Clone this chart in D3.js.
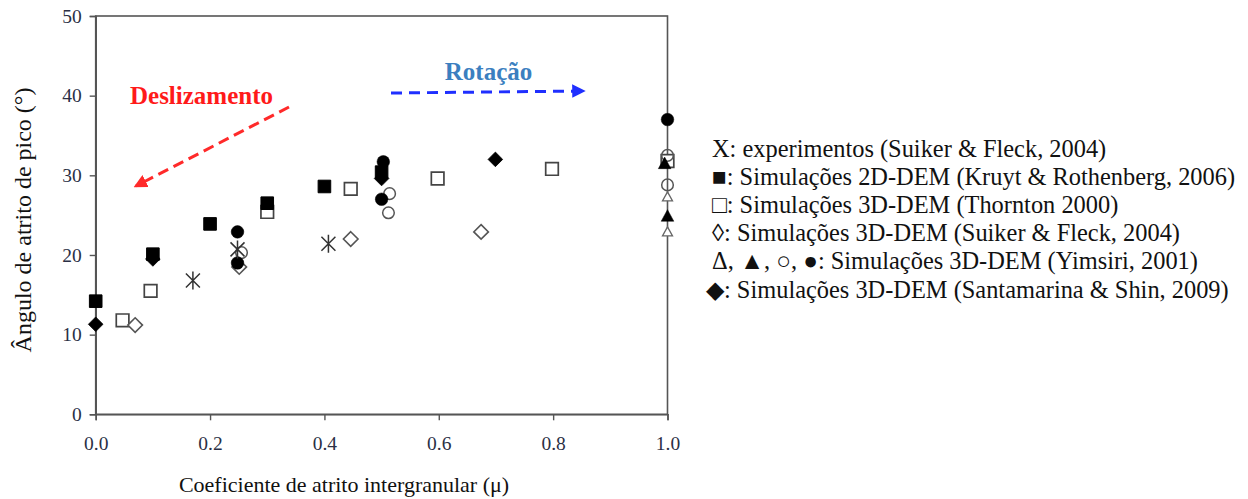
<!DOCTYPE html>
<html>
<head>
<meta charset="utf-8">
<script src="https://cdn.jsdelivr.net/npm/d3@7"></script>
<style>
  html, body { margin: 0; padding: 0; background: #fff; }
  svg { display: block; }
  text { font-family: "Liberation Serif", "Times New Roman", serif; }
</style>
</head>
<body>
<svg id="chart" width="1248" height="499"></svg>
<script>
// Peak friction angle vs. intergranular friction coefficient
const xTicks = [0, 0.2, 0.4, 0.6, 0.8, 1.0];
const yTicks = [0, 10, 20, 30, 40, 50];

// X: experiments (Suiker & Fleck, 2004)
const experimentos = [[0.17, 16.8], [0.248, 20.7], [0.407, 21.4]];
// filled squares: 2D-DEM (Kruyt & Rothenberg, 2006)
const kruyt2D = [[0.0, 14.2], [0.1, 20.1], [0.2, 23.9], [0.3, 26.5], [0.4, 28.6], [0.5, 30.4]];
// open squares: 3D-DEM (Thornton 2000)
const thornton3D = [[0.047, 11.8], [0.096, 15.5], [0.3, 25.4], [0.446, 28.3], [0.598, 29.6], [0.798, 30.8], [1.0, 31.8]];
// open diamonds: 3D-DEM (Suiker & Fleck, 2004)
const suiker3D = [[0.069, 11.2], [0.251, 18.5], [0.446, 22.0], [0.674, 22.9]];
// Yimsiri, 2001: open triangles, filled triangles, open circles, filled circles
const yimsiriTriAberto = [[1.0, 27.3], [1.0, 22.9]];
const yimsiriTriCheio = [[0.995, 31.5], [1.0, 24.9]];
const yimsiriCircAberto = [[0.255, 20.3], [0.514, 27.7], [0.512, 25.3], [1.0, 32.5], [1.0, 28.8]];
const yimsiriCircCheio = [[0.248, 22.9], [0.248, 19.0], [0.503, 31.7], [0.5, 27.0], [1.0, 37.0]];
// filled diamonds: 3D-DEM (Santamarina & Shin, 2009)
const santamarina = [[0.0, 11.3], [0.1, 19.5], [0.5, 29.6], [0.699, 32.0]];

const legendLines = [
  "X: experimentos (Suiker & Fleck, 2004)",
  "\u25A0: Simulações 2D-DEM (Kruyt & Rothenberg, 2006)",
  "\u25A1: Simulações 3D-DEM (Thornton 2000)",
  "\u25CA: Simulações 3D-DEM (Suiker & Fleck, 2004)",
  "\u0394, \u25B2, \u25CB, \u25CF: Simulações 3D-DEM (Yimsiri, 2001)",
  "\u25C6: Simulações 3D-DEM (Santamarina & Shin, 2009)"
];

const svg = d3.select("#chart");
const x = d3.scaleLinear().domain([0, 1]).range([95.7, 667.5]);
const y = d3.scaleLinear().domain([0, 50]).range([414.3, 16]);

const axisColor = "#555";

// plot frame
svg.append("rect")
  .attr("x", x(0)).attr("y", y(50))
  .attr("width", x(1) - x(0)).attr("height", y(0) - y(50))
  .attr("fill", "none").attr("stroke", axisColor).attr("stroke-width", 1.6);

// axes
const xAxis = svg.append("g").attr("transform", `translate(0,${y(0)})`)
  .call(d3.axisBottom(x).tickValues(xTicks).tickFormat(d3.format(".1f")).tickSize(6).tickPadding(16));
const yAxis = svg.append("g").attr("transform", `translate(${x(0)},0)`)
  .call(d3.axisLeft(y).tickValues(yTicks).tickSize(6).tickPadding(8));
[xAxis, yAxis].forEach(g => {
  g.select(".domain").attr("stroke", axisColor).attr("stroke-width", 1.6);
  g.selectAll(".tick line").attr("stroke", axisColor).attr("stroke-width", 1.4);
  g.selectAll(".tick text").attr("font-family", "Liberation Serif, serif")
    .attr("font-size", 19.5).attr("fill", "#2a2f45");
});

// axis titles
svg.append("text")
  .attr("x", 344).attr("y", 492)
  .attr("text-anchor", "middle").attr("font-size", 22).attr("fill", "#111")
  .text("Coeficiente de atrito intergranular (\u03BC)");
svg.append("text")
  .attr("transform", "translate(31,220) rotate(-90)")
  .attr("text-anchor", "middle").attr("font-size", 24).attr("fill", "#111")
  .text("\u00C2ngulo de atrito de pico (\u00B0)");

// marker shapes
const S = 6.3; // half size
const shapes = {
  square: `M${-S},${-S}H${S}V${S}H${-S}Z`,
  diamond: `M0,${-S - 1}L${S + 1},0L0,${S + 1}L${-S - 1},0Z`,
  triangle: `M0,${-S}L${S},${S - 1}H${-S}Z`,
  smallTri: `M0,${-5}L${5},${4}H${-5}Z`,
  star: `M0,-9V9M-7,-7L7,7M-7,7L7,-7`
};

function plot(data, cls, opts) {
  const g = svg.append("g").attr("class", cls);
  if (opts.circle) {
    g.selectAll("circle").data(data).join("circle")
      .attr("cx", d => x(d[0])).attr("cy", d => y(d[1]))
      .attr("r", opts.r || 6)
      .attr("fill", opts.fill).attr("stroke", opts.stroke).attr("stroke-width", opts.sw || 1.5);
  } else {
    g.selectAll("path").data(data).join("path")
      .attr("transform", d => `translate(${x(d[0])},${y(d[1])})`)
      .attr("d", shapes[opts.shape])
      .attr("fill", opts.fill).attr("stroke", opts.stroke).attr("stroke-width", opts.sw || 1.5);
  }
}

plot(thornton3D, "thornton", { shape: "square", fill: "#fff", stroke: "#444", sw: 1.7 });
plot(suiker3D, "suiker", { shape: "diamond", fill: "#fff", stroke: "#555", sw: 1.6 });
plot(yimsiriCircAberto, "yim-circ-open", { circle: true, r: 5.8, fill: "none", stroke: "#555", sw: 1.5 });
plot(yimsiriTriAberto, "yim-tri-open", { shape: "smallTri", fill: "#fff", stroke: "#666", sw: 1.3 });
plot(kruyt2D, "kruyt", { shape: "square", fill: "#000", stroke: "#000", sw: 1 });
plot(santamarina, "santamarina", { shape: "diamond", fill: "#000", stroke: "#000", sw: 0.8 });
plot(yimsiriCircCheio, "yim-circ-filled", { circle: true, r: 6.3, fill: "#000", stroke: "#000", sw: 0.5 });
plot(yimsiriTriCheio, "yim-tri-filled", { shape: "triangle", fill: "#000", stroke: "#000", sw: 0.5 });
plot(experimentos, "experimentos", { shape: "star", fill: "none", stroke: "#333", sw: 1.5 });

// direction annotations
const defs = svg.append("defs");
[["headRed", "#ff2a2a"], ["headBlue", "#1f2fff"]].forEach(([id, c]) => {
  defs.append("marker").attr("id", id)
    .attr("viewBox", "0 0 10 10").attr("refX", 8).attr("refY", 5)
    .attr("markerWidth", 4.5).attr("markerHeight", 4.5).attr("orient", "auto")
    .attr("markerUnits", "strokeWidth")
    .append("path").attr("d", "M0,0L10,5L0,10Z").attr("fill", c);
});

svg.append("line")
  .attr("x1", 289).attr("y1", 107).attr("x2", 136).attr("y2", 186)
  .attr("stroke", "#ff2a2a").attr("stroke-width", 3)
  .attr("stroke-dasharray", "11,6").attr("marker-end", "url(#headRed)");
svg.append("text")
  .attr("x", 201.5).attr("y", 104).attr("text-anchor", "middle")
  .attr("font-size", 25).attr("font-weight", "bold").attr("fill", "#ff1a1a")
  .text("Deslizamento");

svg.append("line")
  .attr("x1", 391).attr("y1", 93).attr("x2", 583).attr("y2", 91)
  .attr("stroke", "#1f2fff").attr("stroke-width", 3)
  .attr("stroke-dasharray", "11,7").attr("marker-end", "url(#headBlue)");
svg.append("text")
  .attr("x", 488.5).attr("y", 80).attr("text-anchor", "middle")
  .attr("font-size", 25).attr("font-weight", "bold").attr("fill", "#3b7fc0")
  .text("Rota\u00E7\u00E3o");

// legend block
svg.append("g").attr("class", "legend")
  .selectAll("text").data(legendLines).join("text")
  .attr("x", (d, i) => i === 5 ? 706 : 712)
  .attr("y", (d, i) => 157 + i * 28.1)
  .attr("font-size", 24.4).attr("fill", "#111")
  .text(d => d);
</script>
</body>
</html>
